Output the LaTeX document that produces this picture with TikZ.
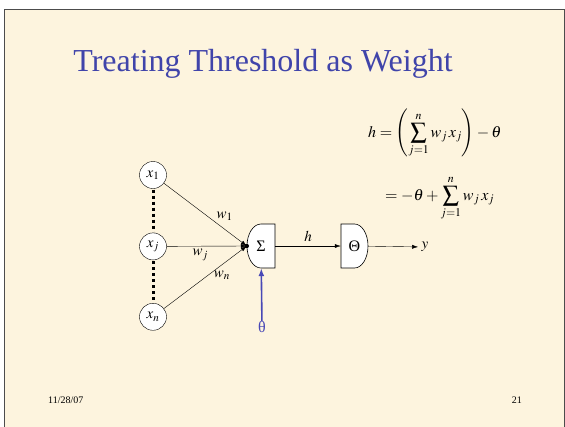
\documentclass[tikz,border=0pt]{standalone}
\usepackage{mathptmx}
\usepackage{fontspec}
\setmainfont{Liberation Serif}
\newfontfamily\slidefont{Liberation Serif}
\usetikzlibrary{arrows.meta, positioning, calc}
\definecolor{slidebg}{RGB}{253,244,222}
\definecolor{titleblue}{RGB}{64,68,170}
\definecolor{thetablue}{RGB}{72,72,182}

\begin{document}
\begin{tikzpicture}[
    x=1pt, y=1pt,
    title/.style={font=\slidefont\fontsize{32}{36}\selectfont, text=titleblue},
    unit/.style={draw, fill=white, circle, minimum size=27pt, inner sep=0pt, font=\fontsize{15}{17}\selectfont},
    gatebox/.style={draw, fill=white, line width=0.6pt},
    gatetext/.style={inner sep=0pt, minimum width=28pt, minimum height=44pt, font=\slidefont\fontsize{16}{18}\selectfont},
    wire/.style={draw, -{Latex[length=6pt, width=4pt]}},
    dotline/.style={draw, line width=3pt, dash pattern=on 3pt off 3pt, shorten <=1pt, shorten >=1pt},
    weight/.style={font=\fontsize{15}{17}\selectfont},
    bias/.style={draw, -{Latex[length=8pt, width=6pt]}, line width=1.6pt, thetablue},
    eq/.style={anchor=base west, inner sep=0pt, font=\fontsize{16}{19}\selectfont},
    foot/.style={inner sep=0pt, font=\slidefont\fontsize{10}{12}\selectfont}
]
    \useasboundingbox (0,0) rectangle (565,-426);

    % Slide
    \draw[draw=gray!60!black, fill=slidebg] (4,-9) rectangle (564,-432);
    \node[title] (title) at (263,-64) {Treating Threshold as Weight};

    % Equations
    \node[eq] (eqone) at (368,-137) {$\displaystyle h = \left(\sum_{j=1}^{n} w_j\, x_j\right) - \theta$};
    \node[eq] (eqtwo) at (385,-200) {$\displaystyle = -\theta + \sum_{j=1}^{n} w_j\, x_j$};

    % Inputs
    \node[unit] (x1) at (153,-175) {$x_1$};
    \node[unit, below=44pt of x1] (xj) {$x_j$};
    \node[unit, below=43pt of xj] (xn) {$x_n$};
    \draw[dotline] (x1) -- (xj);
    \draw[dotline] (xj) -- (xn);

    % Gates
    \coordinate (sumc) at (261,-246);
    \coordinate (actc) at (354.5,-246);
    \draw[gatebox] ($(sumc)+(14,22)$) -- ($(sumc)+(0,22)$)
        arc[start angle=90, end angle=270, x radius=14pt, y radius=22pt]
        -- ($(sumc)+(14,-22)$) -- cycle;
    \draw[gatebox] ($(actc)+(-13.5,22)$) -- ($(actc)+(0,22)$)
        arc[start angle=90, end angle=-90, x radius=13.5pt, y radius=22pt]
        -- ($(actc)+(-13.5,-22)$) -- cycle;
    \node[gatetext] (sum) at (sumc) {Σ};
    \node[gatetext, minimum width=27pt] (act) at (actc) {Θ};
    \node[weight] (out) at (425,-247) {$y$};
    \node[gatetext, minimum height=0pt, text=thetablue] (theta) at (262,-327) {θ};

    % Lines
    \coordinate (join) at (sum.west);
    \draw[wire] (x1) -- (join) node[pos=0.62, above right, weight, inner sep=1pt] {$w_1$};
    \draw[wire] (xj) -- (join) node[pos=0.42, below, weight, inner sep=3pt] {$w_j$};
    \draw[wire] (xn) -- (join) node[pos=0.6, below right, weight, inner sep=0pt] {$w_n$};
    \fill (join) circle[radius=2.2pt];
    \draw[wire] (sum) -- (act) node[midway, above, weight, inner sep=4pt] {$h$};
    \draw[wire] (act) -- (out);
    \draw[bias] (theta) -- (sum);

    % Footer
    \node[foot, anchor=base west] (date) at (48,-403) {11/28/07};
    \node[foot, anchor=base east] (page) at (522,-403) {21};

\end{tikzpicture}
\end{document}
